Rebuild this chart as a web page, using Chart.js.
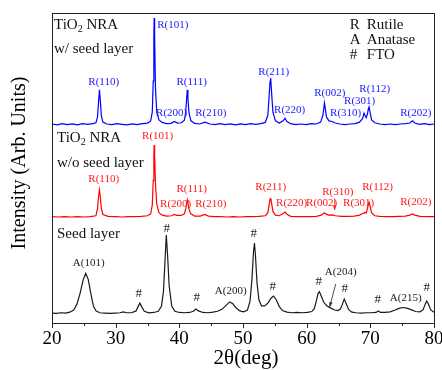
<!DOCTYPE html>
<html>
<head>
<meta charset="utf-8">
<script src="https://cdn.jsdelivr.net/npm/chart.js@4.4.1/dist/chart.umd.min.js"></script>
<style>
  html, body { margin: 0; padding: 0; background: #fff; }
  #wrap { width: 442px; height: 370px; position: relative; }
</style>
</head>
<body>
<div id="wrap"><canvas id="xrdChart"></canvas></div>
<script>
// 2theta axis
const xMin = 20;
const xMax = 80;
const xStep = 10;

// XRD traces: [2theta, stacked intensity]
const withSeed = [
  [20,64.2],[20.8,63.9],[21.6,64.3],[22.4,64.0],[23.2,64.2],[24,63.9],[24.8,64.3],[25.6,64.1],[26.4,64.3],[26.9,64.6],
  [27.15,66.5],[27.3,71],[27.45,75.2],[27.6,71.5],[27.75,66.8],[28.0,64.8],[28.6,64.2],[29.4,64.0],[30.2,64.3],[31,64.1],
  [31.8,63.9],[32.6,64.2],[33.4,64.0],[34.2,64.3],[35,64.5],[35.5,65.2],[35.75,68],[35.9,78],[36.0,92],[36.05,98.4],
  [36.12,92],[36.25,76],[36.45,68],[36.8,65.5],[37.3,64.7],[38,64.3],[38.7,64.4],[39.2,65.0],[39.7,64.5],[40.3,64.6],
  [40.8,65.4],[41.0,68],[41.15,72.5],[41.25,75.2],[41.35,72.5],[41.5,68],[41.8,65.3],[42.4,64.4],[43.2,64.2],[44.0,64.8],
  [44.8,64.2],[45.6,64.0],[46.4,64.3],[47.2,64.0],[48,64.2],[48.8,63.9],[49.6,64.2],[50.4,64.0],[51.2,64.3],[52,64.1],
  [52.8,64.3],[53.5,64.7],[53.9,67],[54.1,73],[54.25,78],[54.35,79],[54.5,74],[54.7,68],[55.1,65.2],[55.7,64.5],
  [56.3,65.2],[56.6,66],[56.9,65],[57.5,64.3],[58.3,64.0],[59.1,64.2],[59.9,64.0],[60.7,64.3],[61.5,64.2],[62.2,64.8],
  [62.55,67],[62.7,69.5],[62.8,71],[62.9,69.5],[63.1,66.5],[63.5,65.2],[64.0,65.0],[64.5,64.5],[65.2,64.2],[66,64.0],
  [66.8,64.2],[67.6,64.3],[68.3,64.8],[68.8,66],[69.0,67.7],[69.15,67],[69.35,66.2],[69.55,67.5],[69.7,69.2],[69.8,69.7],
  [69.95,68],[70.2,65.5],[70.7,64.6],[71.5,64.2],[72.3,64.0],[73.1,64.2],[73.9,64.0],[74.7,64.2],[75.5,64.3],[76.2,64.5],
  [76.6,65.2],[77.0,64.5],[77.7,64.1],[78.5,64.3],[79.3,64.0],[80,64.2]
];

const withoutSeed = [
  [20,34.3],[21,34.2],[22,34.3],[23,34.2],[24,34.3],[25,34.2],[26,34.3],[26.9,34.6],[27.15,37],[27.3,40.5],
  [27.45,42.9],[27.6,40.5],[27.75,37],[28.0,35],[28.8,34.4],[30,34.3],[31,34.2],[32,34.3],[33,34.3],[34,34.4],
  [35,34.6],[35.5,35.2],[35.75,38],[35.9,46],[36.0,54],[36.05,57.4],[36.12,54],[36.25,45],[36.45,38.5],[36.8,35.6],
  [37.3,34.8],[38,34.5],[38.8,34.6],[39.2,35.0],[39.6,34.7],[40.3,34.7],[40.8,35.2],[41.0,36.8],[41.15,38.6],[41.25,39.7],
  [41.35,38.6],[41.5,36.8],[41.8,35.2],[42.4,34.5],[43.3,34.5],[44.0,35.0],[44.6,34.5],[45.5,34.3],[46.5,34.3],[47.5,34.2],
  [48.5,34.3],[49.5,34.2],[50.5,34.3],[51.5,34.3],[52.5,34.4],[53.5,34.6],[53.9,35.5],[54.1,38],[54.25,40],[54.35,40.3],
  [54.5,38.5],[54.7,36],[55.1,34.8],[55.7,34.6],[56.3,35.3],[56.6,35.8],[56.9,35.1],[57.5,34.4],[58.5,34.3],[59.5,34.3],
  [60.5,34.3],[61.5,34.4],[62.3,34.8],[62.6,35.3],[62.8,35.5],[63.0,35.2],[63.4,34.8],[64.0,34.9],[64.5,34.6],[65.5,34.4],
  [66.5,34.4],[67.5,34.5],[68.3,34.8],[68.8,35.3],[69.1,35.6],[69.35,35.5],[69.55,37],[69.7,38.6],[69.8,39.0],[69.95,37.8],
  [70.2,35.5],[70.7,34.6],[71.5,34.4],[72.5,34.3],[73.5,34.3],[74.5,34.4],[75.5,34.5],[76.2,34.8],[76.6,35.2],[77.0,34.8],
  [77.8,34.4],[79,34.3],[80,34.3]
];

const seedLayer = [
  [20,3.2],[20.7,3.1],[21.4,3.3],[22.1,3.2],[22.8,3.5],[23.4,4.2],[23.9,6],[24.4,9.5],[24.9,14],[25.3,16],
  [25.7,14],[26.1,9.5],[26.5,5.5],[26.9,3.9],[27.5,3.3],[28.3,3.2],[29.1,3.1],[29.9,3.2],[30.7,3.3],[31.2,3.6],
  [31.7,3.3],[32.5,3.3],[33.2,3.9],[33.5,5.2],[33.8,6.4],[34.1,5.2],[34.5,3.8],[35.2,3.3],[36,3.4],[36.7,3.8],
  [37.2,5.5],[37.5,10],[37.75,20],[37.95,28.4],[38.15,22],[38.4,12],[38.8,5.5],[39.3,3.8],[40,3.4],[40.8,3.3],
  [41.6,3.4],[42.2,3.8],[42.6,4.5],[43,3.9],[43.7,3.4],[44.5,3.3],[45.3,3.5],[46,3.8],[46.7,4.4],[47.3,5.6],
  [47.9,6.8],[48.4,6.2],[48.9,4.9],[49.5,3.9],[50.1,3.6],[50.7,4.2],[51.1,7],[51.4,14],[51.65,23],[51.8,25.8],
  [51.95,22],[52.2,13],[52.5,7.5],[52.9,5.5],[53.4,5.5],[53.9,6.4],[54.4,8.0],[54.8,8.7],[55.2,7.6],[55.7,5.3],
  [56.2,4.0],[56.9,3.5],[57.7,3.3],[58.5,3.4],[59.3,3.3],[60.1,3.4],[60.8,3.7],[61.2,4.6],[61.5,7],[61.8,9.6],
  [62.0,10.1],[62.3,8.6],[62.7,6.6],[63.2,5.5],[63.8,4.8],[64.4,4.2],[64.9,4.0],[65.3,4.5],[65.6,6],[65.9,7.7],
  [66.2,6.3],[66.6,4.3],[67.1,3.5],[67.8,3.3],[68.6,3.2],[69.4,3.3],[70.2,3.3],[70.9,3.4],[71.25,3.9],[71.6,3.4],
  [72.3,3.4],[73.1,3.6],[73.8,4.1],[74.5,4.7],[75.1,5.0],[75.7,4.8],[76.4,4.3],[77.1,3.7],[77.8,3.6],[78.3,4.3],
  [78.6,6],[78.85,7.1],[79.1,6.2],[79.5,4.2],[80,3.5]
];

// peak labels: [text, 2theta, intensity]
const withSeedPeaks = [
  ['R(110)',28.12,77.7],['R(101)',38.96,96.1],['R(200)',38.8,67.7],['R(111)',41.94,77.7],['R(210)',44.93,67.7],
  ['R(211)',54.82,81.0],['R(220)',57.33,68.7],['R(002)',63.62,74.2],['R(310)',66.13,67.7],['R(301)',68.33,71.6],
  ['R(112)',70.69,75.5],['R(202)',77.13,67.7]
];
const withoutSeedPeaks = [
  ['R(110)',28.12,46.5],['R(101)',36.6,60.3],['R(200)',39.43,38.4],['R(111)',41.94,43.2],['R(210)',44.93,38.4],
  ['R(211)',54.35,43.9],['R(220)',57.65,38.7],['R(002)',62.36,38.7],['R(310)',64.88,42.3],['R(301)',68.17,38.7],
  ['R(112)',71.15,43.9],['R(202)',77.13,39.0]
];
const seedPeaks = [
  ['A(101)',25.77,19.4],['#',33.63,9.4],['#',38.02,30.6],['#',42.73,8.1],['A(200)',48.07,10.3],['#',51.68,29.0],
  ['#',54.67,11.6],['#',61.89,13.5],['A(204)',65.34,16.5],['#',65.97,11.0],['#',71.15,7.7],['A(215)',75.55,8.1],
  ['#',78.85,11.3]
];

// [symbol, phase]
const phaseKey = [['R','Rutile'],['A','Anatase'],['#','FTO']];

const serif = "'Liberation Serif', 'Times New Roman', serif";

function toPoints(trace) {
  return trace.map(p => ({ x: p[0], y: p[1] }));
}

// draws "TiO2 NRA" with the 2 as a subscript
function drawTiO2(ctx, x, y) {
  ctx.font = '15px ' + serif;
  ctx.fillText('TiO', x, y);
  let w = ctx.measureText('TiO').width;
  ctx.font = '10px ' + serif;
  ctx.fillText('2', x + w, y + 4);
  w += ctx.measureText('2').width;
  ctx.font = '15px ' + serif;
  ctx.fillText(' NRA', x + w, y);
}

function drawArrow(ctx, x1, y1, x2, y2, color) {
  const ang = Math.atan2(y2 - y1, x2 - x1);
  ctx.strokeStyle = color;
  ctx.fillStyle = color;
  ctx.lineWidth = 0.8;
  ctx.beginPath();
  ctx.moveTo(x1, y1);
  ctx.lineTo(x2, y2);
  ctx.stroke();
  ctx.beginPath();
  ctx.moveTo(x2, y2);
  ctx.lineTo(x2 - 5 * Math.cos(ang - 0.35), y2 - 5 * Math.sin(ang - 0.35));
  ctx.lineTo(x2 - 5 * Math.cos(ang + 0.35), y2 - 5 * Math.sin(ang + 0.35));
  ctx.closePath();
  ctx.fill();
}

const overlayPlugin = {
  id: 'overlay',
  afterDraw(chart) {
    const { ctx, chartArea: a } = chart;
    const sx = chart.scales.x;
    const sy = chart.scales.y;
    const px = v => sx.getPixelForValue(v);
    const py = v => sy.getPixelForValue(v);

    ctx.save();

    // frame
    ctx.strokeStyle = '#222';
    ctx.lineWidth = 1;
    ctx.strokeRect(Math.round(a.left) + 0.5, Math.round(a.top) + 0.5,
      Math.round(a.right - a.left), Math.round(a.bottom - a.top));

    // outward ticks on the bottom axis
    for (let v = xMin; v <= xMax; v += xStep / 2) {
      const x = Math.round(px(v)) + 0.5;
      const len = (v - xMin) % xStep === 0 ? 5 : 3;
      ctx.beginPath();
      ctx.moveTo(x, a.bottom);
      ctx.lineTo(x, a.bottom + len);
      ctx.stroke();
    }

    // peak labels
    ctx.textAlign = 'center';
    ctx.textBaseline = 'middle';
    const groups = [
      [withSeedPeaks, '#2020ff'],
      [withoutSeedPeaks, '#ff1a1a'],
      [seedPeaks, '#222']
    ];
    groups.forEach(([peaks, color]) => {
      ctx.fillStyle = color;
      peaks.forEach(([txt, xv, yv]) => {
        ctx.font = (txt === '#' ? '13px ' : '11px ') + serif;
        ctx.fillText(txt, px(xv), py(yv));
      });
    });

    // arrows
    drawArrow(ctx, px(64.56), py(12.6), px(63.62), py(5.2), '#222');
    drawArrow(ctx, px(64.4), py(40.2), px(64.4), py(36.4), '#ff1a1a');

    // sample names
    ctx.textAlign = 'left';
    ctx.fillStyle = '#111';
    const left = a.left + 2;
    drawTiO2(ctx, left, py(96.1));
    ctx.font = '15px ' + serif;
    ctx.fillText('w/ seed layer', left, py(88.4));
    drawTiO2(ctx, left + 3, py(59.7));
    ctx.font = '15px ' + serif;
    ctx.fillText('w/o seed layer', left + 3, py(51.6));
    ctx.fillText('Seed layer', left + 3, py(28.7));

    // phase key
    phaseKey.forEach(([sym, name], i) => {
      const yy = py(96.1 - i * 4.8);
      ctx.font = '15px ' + serif;
      ctx.fillText(sym, px(66.75), yy);
      ctx.fillText(name, px(69.45), yy);
    });

    // axis titles
    ctx.fillStyle = '#000';
    ctx.textAlign = 'center';
    ctx.font = '21px ' + serif;
    ctx.fillText('2\u03B8(deg)', (a.left + a.right) / 2 + 3, 358);
    ctx.translate(20, (a.top + a.bottom) / 2 - 5);
    ctx.rotate(-Math.PI / 2);
    ctx.font = '20px ' + serif;
    ctx.fillText('Intensity (Arb. Units)', 0, 0);

    ctx.restore();
  }
};

new Chart(document.getElementById('xrdChart'), {
  type: 'line',
  data: {
    datasets: [
      { label: 'Seed layer', data: toPoints(seedLayer), borderColor: '#1a1a1a' },
      { label: 'w/o seed layer', data: toPoints(withoutSeed), borderColor: '#ff0000' },
      { label: 'w/ seed layer', data: toPoints(withSeed), borderColor: '#0000ff' }
    ]
  },
  options: {
    responsive: true,
    maintainAspectRatio: false,
    animation: false,
    devicePixelRatio: 1,
    layout: { padding: { top: 13, right: 8, left: 0, bottom: 0 } },
    elements: {
      point: { radius: 0 },
      line: { borderWidth: 1.2, tension: 0 }
    },
    plugins: {
      legend: { display: false },
      tooltip: { enabled: false }
    },
    scales: {
      x: {
        type: 'linear',
        min: xMin,
        max: xMax,
        grid: { display: false, drawTicks: false },
        border: { display: false },
        ticks: {
          stepSize: xStep,
          autoSkip: false,
          maxRotation: 0,
          padding: 5,
          color: '#000',
          font: { family: serif, size: 19 }
        },
        afterFit(scale) {
          scale.height = 47;
          scale.paddingLeft = 0;
          scale.paddingRight = 0;
        }
      },
      y: {
        min: 0,
        max: 100,
        grid: { display: false, drawTicks: false },
        border: { display: false },
        ticks: { display: false },
        afterFit(scale) {
          scale.width = 52;
        }
      }
    }
  },
  plugins: [overlayPlugin]
});
</script>
</body>
</html>
